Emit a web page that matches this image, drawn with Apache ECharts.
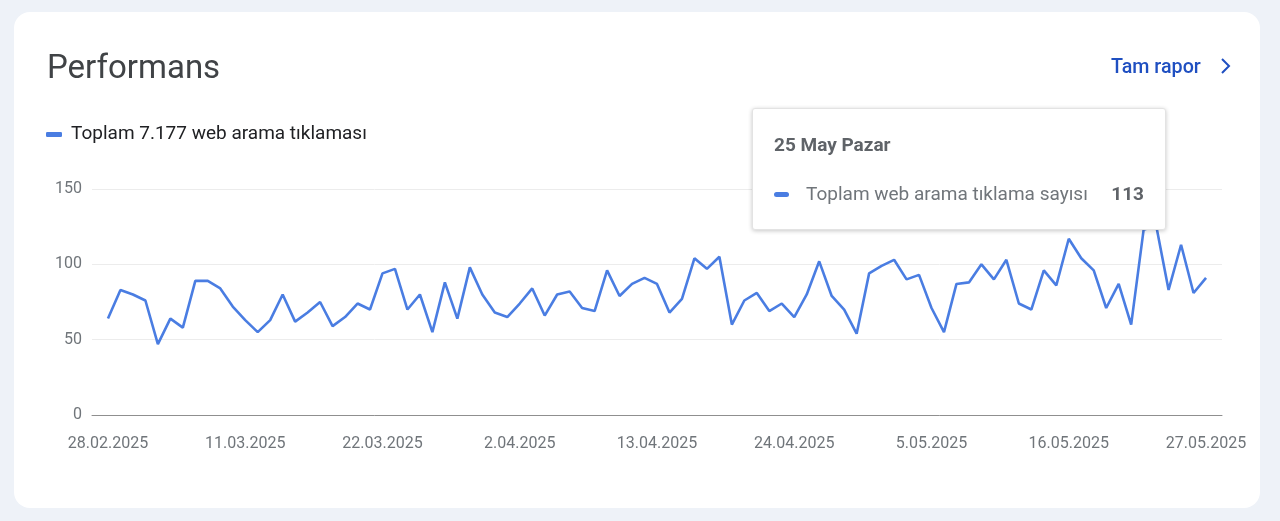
<!DOCTYPE html>
<html>
<head>
<meta charset="utf-8">
<script src="https://cdn.jsdelivr.net/npm/echarts@6/dist/echarts.min.js"></script>
<style>
  html, body { margin: 0; padding: 0; width: 1280px; height: 521px; overflow: hidden; background: #eef2f8; }
  #card { position: absolute; left: 14px; top: 12px; width: 1246px; height: 496px; background: #ffffff; border-radius: 16px; }
  #chart { position: absolute; left: 0; top: 0; width: 1280px; height: 521px; }
</style>
</head>
<body>
<div id="card"></div>
<div id="chart"></div>
<script>
// ---- Data ----
const startDate = [2025, 1, 28]; // 28 Feb 2025 (month 0-based)
const dailyClicks = [
  64, 83, 80, 76, 47, 64, 58, 89, 89, 84,
  72, 63, 55, 63, 80, 62, 68, 75, 59, 65,
  74, 70, 94, 97, 70, 80, 55, 88, 64, 98,
  80, 68, 65, 74, 84, 66, 80, 82, 71, 69,
  96, 79, 87, 91, 87, 68, 77, 104, 97, 105,
  60, 76, 81, 69, 74, 65, 80, 102, 79, 70,
  54, 94, 99, 103, 90, 93, 71, 55, 87, 88,
  100, 90, 103, 74, 70, 96, 86, 117, 104, 96,
  71, 87, 60, 123, 126, 83, 113, 81, 91
];
const xTickLabels = ['28.02.2025', '11.03.2025', '22.03.2025', '2.04.2025', '13.04.2025',
                     '24.04.2025', '5.05.2025', '16.05.2025', '27.05.2025'];
const yTicks = [0, 50, 100, 150];
const seriesName = 'Toplam web arama tıklama sayısı';
const titleText = 'Performans';
const linkText = 'Tam rapor';
const highlightedIndex = 86; // 25 May
const monthShort = ['Oca', 'Şub', 'Mar', 'Nis', 'May', 'Haz', 'Tem', 'Ağu', 'Eyl', 'Eki', 'Kas', 'Ara'];
const weekdays = ['Pazar', 'Pazartesi', 'Salı', 'Çarşamba', 'Perşembe', 'Cuma', 'Cumartesi'];

// ---- Derived ----
const dates = dailyClicks.map((_, i) => new Date(Date.UTC(startDate[0], startDate[1], startDate[2] + i)));
const dateLabels = dates.map(d => d.getUTCDate() + '.' + String(d.getUTCMonth() + 1).padStart(2, '0') + '.' + d.getUTCFullYear());
const tickIndices = xTickLabels.map(l => dateLabels.indexOf(l));
const total = dailyClicks.reduce((a, b) => a + b, 0);
const totalStr = String(total).replace(/\B(?=(\d{3})+(?!\d))/g, '.');
const legendText = 'Toplam ' + totalStr + ' web arama tıklaması';
const seriesData = dailyClicks.map((v, i) => [i, v]);

const FONT = 'Roboto, "Noto Sans", sans-serif';
const LINE_COLOR = '#4a7de2';
const pad = 1.28; // extra axis room on each side, in days

const chart = echarts.init(document.getElementById('chart'), null, { renderer: 'canvas' });
chart.setOption({
  animation: false,
  backgroundColor: 'transparent',
  textStyle: { fontFamily: FONT },
  grid: { left: 92, right: 58, top: 189, bottom: 106, containLabel: false },
  legend: {
    left: 41, top: 120,
    icon: 'roundRect', itemWidth: 16, itemHeight: 5,
    selectedMode: false,
    formatter: () => legendText,
    textStyle: { fontFamily: FONT, fontSize: 19, color: '#202124', padding: [0, 0, 0, 4] },
    data: [{ name: seriesName, itemStyle: { color: LINE_COLOR } }]
  },
  graphic: [
    { type: 'text', left: 47, top: 53, style: { text: titleText, font: '400 33px ' + FONT, fill: '#404346' } },
    { type: 'text', left: 1111, top: 58, style: { text: linkText, font: '500 19.7px ' + FONT, fill: '#1f4fc1' } },
    { type: 'polyline', shape: { points: [[1222, 59], [1229, 66], [1222, 73]] },
      style: { stroke: '#1f4fc1', lineWidth: 2, fill: null } }
  ],
  tooltip: {
    trigger: 'axis',
    triggerOn: 'none',
    alwaysShowContent: true,
    transitionDuration: 0,
    axisPointer: { type: 'none' },
    backgroundColor: '#ffffff',
    borderColor: '#e3e3e3',
    borderWidth: 1,
    padding: 0,
    extraCssText: 'box-shadow: 0 1px 4px rgba(0,0,0,0.22); border-radius: 3px;',
    position: () => [752, 108],
    formatter: (params) => {
      const p = params[0];
      const d = dates[p.dataIndex];
      const header = d.getUTCDate() + ' ' + monthShort[d.getUTCMonth()] + ' ' + weekdays[d.getUTCDay()];
      return '<div style="width:412px;height:120px;box-sizing:border-box;padding:24px 21px 0 21px;font-family:' + FONT.replace(/"/g, "'") + ';">' +
        '<div style="font-size:19px;font-weight:700;color:#5f6368;line-height:24px;">' + header + '</div>' +
        '<div style="display:flex;align-items:center;margin-top:25px;line-height:24px;">' +
          '<span style="display:inline-block;width:15px;height:5px;border-radius:3px;background:' + LINE_COLOR + ';margin:0 17px 0 0;"></span>' +
          '<span style="font-size:19px;color:#70757a;flex:1;">' + p.seriesName + '</span>' +
          '<span style="font-size:19px;font-weight:700;color:#5f6368;">' + p.value[1] + '</span>' +
        '</div></div>';
    }
  },
  xAxis: {
    type: 'value',
    min: -pad,
    max: dailyClicks.length - 1 + pad,
    splitLine: { show: false },
    axisTick: { show: false },
    axisLine: { show: true, onZero: true, lineStyle: { color: '#8f8f8f', width: 1 } },
    axisLabel: {
      customValues: tickIndices,
      formatter: (v) => dateLabels[Math.round(v)] || '',
      color: '#70757a', fontSize: 16, fontFamily: FONT, margin: 21
    }
  },
  yAxis: {
    type: 'value',
    min: yTicks[0], max: yTicks[yTicks.length - 1], interval: 50,
    axisLine: { show: false },
    axisTick: { show: false },
    splitLine: { show: true, lineStyle: { color: '#ececec', width: 1 } },
    axisLabel: { color: '#70757a', fontSize: 16, fontFamily: FONT, margin: 10 }
  },
  series: [{
    name: seriesName,
    type: 'line',
    data: seriesData,
    symbol: 'none',
    lineStyle: { color: LINE_COLOR, width: 2.6 },
    itemStyle: { color: LINE_COLOR },
    emphasis: { disabled: true },
    z: 2
  }]
});
chart.dispatchAction({ type: 'showTip', seriesIndex: 0, dataIndex: highlightedIndex });
</script>
</body>
</html>
